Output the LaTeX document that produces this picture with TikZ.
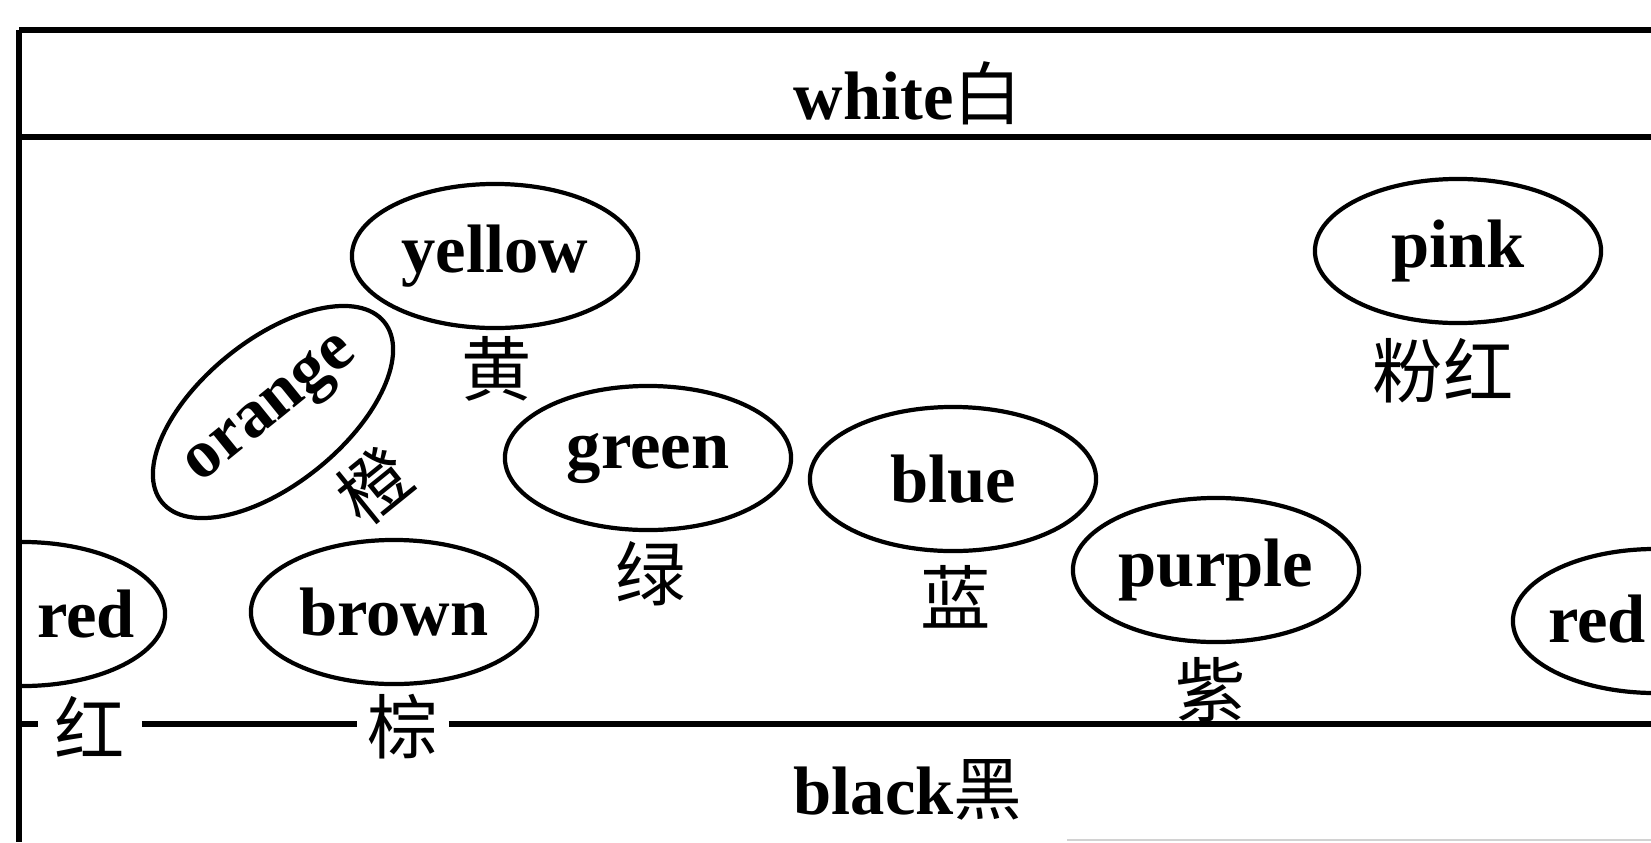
\documentclass[tikz,border=0pt]{standalone}
\usepackage{fontspec}
\setmainfont{Liberation Serif}
\newfontfamily\cjk{Noto Sans CJK SC}
\usepackage{tikz}
\usetikzlibrary{shapes.geometric}
\tikzstyle{oval} = [ellipse, draw, line width=1.2pt, minimum width=2.86cm, minimum height=1.44cm, inner sep=0pt, font=\fontsize{19.5}{24}\selectfont\bfseries]
\tikzstyle{word} = [font=\fontsize{19.5}{24}\selectfont\bfseries, inner sep=1pt]
\tikzstyle{hanzi} = [font=\fontsize{20}{24}\selectfont\cjk, inner sep=1pt]
\tikzstyle{rule} = [line width=1.5pt]

\begin{document}
\begin{tikzpicture}[x=0.01cm, y=-0.01cm]
        \useasboundingbox (0,0) rectangle (1651,842);
        \draw [rule, line width=1.8pt] (1651,30) -- (19,30);
        \draw [rule] (19,30) -- (19,842);
        \draw [rule] (19,137) -- (1651,137);
        \draw [gray!35, line width=0.6pt] (1067,840) -- (1651,840);
        \coordinate (lineleft) at (19,724);
        \coordinate (lineright) at (1651,724);
        \node (white) [word] at (908,93) {white{\cjk\mdseries 白}};
        \node (black) [word] at (908,790) {black{\cjk\mdseries 黑}};
        \begin{scope}
            \clip (19,30) rectangle (1651,842);
            \node (redl) [oval] at (22,614) {};
            \node (redr) [oval] at (1656,621) {};
        \end{scope}
        \node (redltext) [word] at (86,614) {red};
        \node (redrtext) [word] at (1597,619) {red};
        \node (yellow) [oval] at (495,256) {yellow};
        \node (orange) [oval, rotate=39] at (273,412) {orange};
        \node (green) [oval] at (648,458) {green};
        \node (blue) [oval] at (953,479) {blue};
        \node (purple) [oval] at (1216,570) {purple};
        \node (pink) [oval] at (1458,251) {pink};
        \node (brown) [oval] at (394,612) {brown};
        \node (huang) [hanzi] at (497,369) {黄};
        \node (cheng) [hanzi, rotate=39] at (374,486) {橙};
        \node (lv) [hanzi] at (651,574) {绿};
        \node (lan) [hanzi] at (956,597) {蓝};
        \node (zi) [hanzi] at (1211,690) {紫};
        \node (fenhong) [hanzi] at (1443,371) {粉红};
        \node (hong) [hanzi, inner xsep=0.16cm] at (90,727) {红};
        \node (zong) [hanzi, inner xsep=0.1cm] at (403,727) {棕};
        \draw [rule] (lineleft) -- (lineleft -| hong.west);
        \draw [rule] (lineleft -| hong.east) -- (lineleft -| zong.west);
        \draw [rule] (lineleft -| zong.east) -- (lineright);
    \end{tikzpicture}
\end{document}
